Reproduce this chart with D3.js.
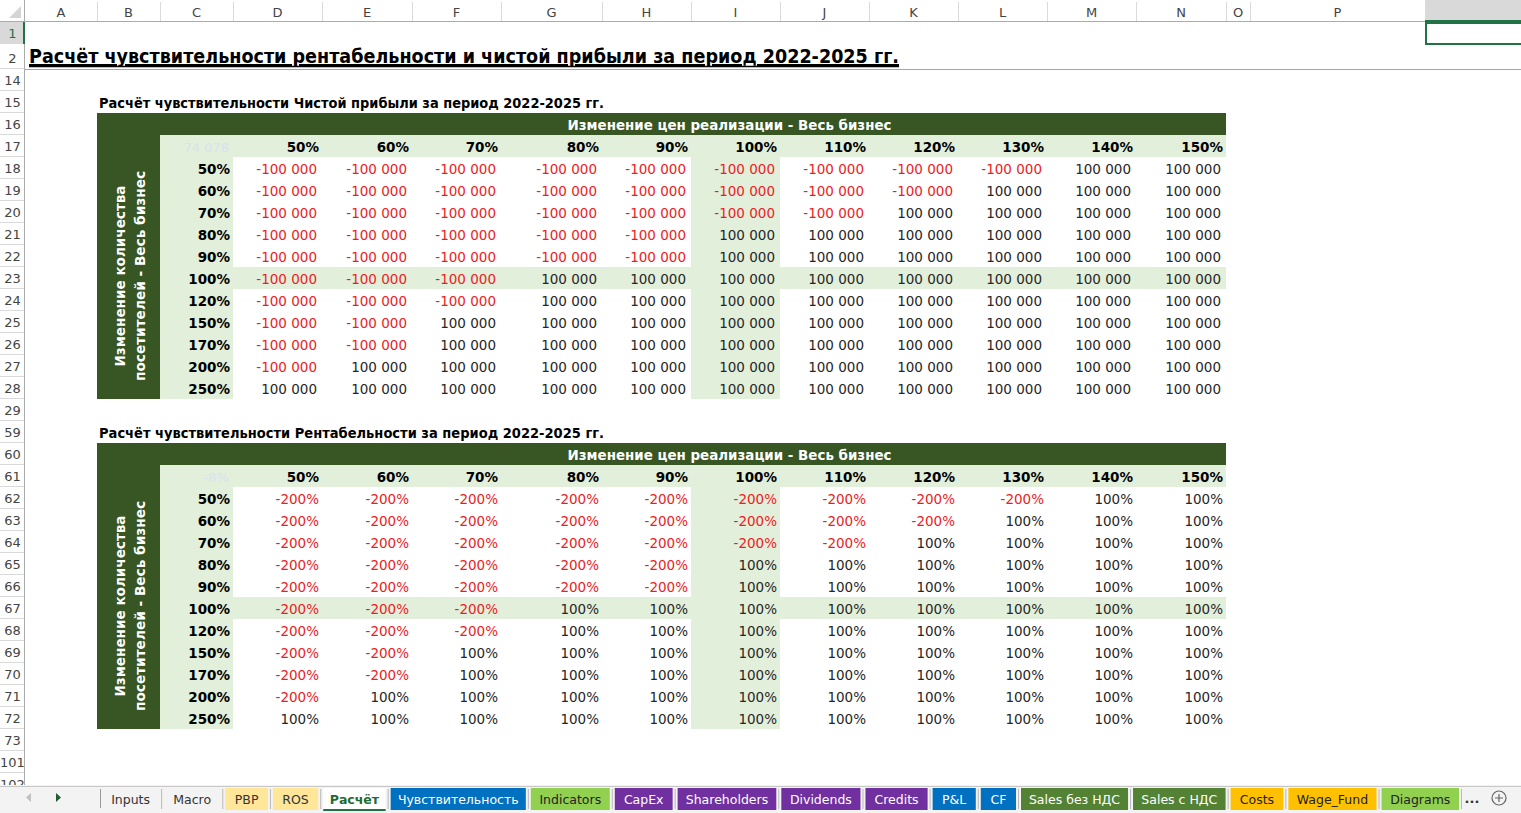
<!DOCTYPE html>
<html>
<head>
<meta charset="utf-8">
<script src="https://cdn.jsdelivr.net/npm/d3@7/dist/d3.min.js"></script>
<style>
  html, body { margin: 0; padding: 0; background: #fff; overflow: hidden; }
  text { font-family: "DejaVu Sans", sans-serif; }
  .ui { font-family: "Noto Sans", "Open Sans", sans-serif; }
</style>
</head>
<body>
<svg id="sheet" width="1521" height="813"></svg>
<script>
// ---- данные ----
const priceChanges = ["50%", "60%", "70%", "80%", "90%", "100%", "110%", "120%", "130%", "140%", "150%"];
const visitorChanges = ["50%", "60%", "70%", "80%", "90%", "100%", "120%", "150%", "170%", "200%", "250%"];

// Чистая прибыль, строки = посетители, столбцы = цена
const profitValues = [
    [-100000, -100000, -100000, -100000, -100000, -100000, -100000, -100000, -100000, 100000, 100000],
    [-100000, -100000, -100000, -100000, -100000, -100000, -100000, -100000, 100000, 100000, 100000],
    [-100000, -100000, -100000, -100000, -100000, -100000, -100000, 100000, 100000, 100000, 100000],
    [-100000, -100000, -100000, -100000, -100000, 100000, 100000, 100000, 100000, 100000, 100000],
    [-100000, -100000, -100000, -100000, -100000, 100000, 100000, 100000, 100000, 100000, 100000],
    [-100000, -100000, -100000, 100000, 100000, 100000, 100000, 100000, 100000, 100000, 100000],
    [-100000, -100000, -100000, 100000, 100000, 100000, 100000, 100000, 100000, 100000, 100000],
    [-100000, -100000, 100000, 100000, 100000, 100000, 100000, 100000, 100000, 100000, 100000],
    [-100000, -100000, 100000, 100000, 100000, 100000, 100000, 100000, 100000, 100000, 100000],
    [-100000, 100000, 100000, 100000, 100000, 100000, 100000, 100000, 100000, 100000, 100000],
    [100000, 100000, 100000, 100000, 100000, 100000, 100000, 100000, 100000, 100000, 100000]
];

// Рентабельность (доли)
const rosValues = [
    [-2, -2, -2, -2, -2, -2, -2, -2, -2, 1, 1],
    [-2, -2, -2, -2, -2, -2, -2, -2, 1, 1, 1],
    [-2, -2, -2, -2, -2, -2, -2, 1, 1, 1, 1],
    [-2, -2, -2, -2, -2, 1, 1, 1, 1, 1, 1],
    [-2, -2, -2, -2, -2, 1, 1, 1, 1, 1, 1],
    [-2, -2, -2, 1, 1, 1, 1, 1, 1, 1, 1],
    [-2, -2, -2, 1, 1, 1, 1, 1, 1, 1, 1],
    [-2, -2, 1, 1, 1, 1, 1, 1, 1, 1, 1],
    [-2, -2, 1, 1, 1, 1, 1, 1, 1, 1, 1],
    [-2, 1, 1, 1, 1, 1, 1, 1, 1, 1, 1],
    [1, 1, 1, 1, 1, 1, 1, 1, 1, 1, 1]
];

const sheetTitle = "Расчёт чувствительности рентабельности и чистой прибыли за период 2022-2025 гг.";
const profitTitle = "Расчёт чувствительности Чистой прибыли за период 2022-2025 гг.";
const rosTitle = "Расчёт чувствительности Рентабельности за период 2022-2025 гг.";
const priceHeader = "Изменение цен реализации - Весь бизнес";
const visitorHeader = ["Изменение количества", "посетителей - Весь бизнес"];
const cornerHints = ["74 078", "-8%"];

const tabNames = ["Inputs", "Macro", "PBP", "ROS", "Расчёт", "Чувствительность", "Indicators", "CapEx",
    "Shareholders", "Dividends", "Credits", "P&L", "CF", "Sales без НДС", "Sales с НДС", "Costs", "Wage_Fund", "Diagrams"];
const tabGroups = ["plain", "plain", "yellow", "yellow", "active", "blue", "lime", "purple",
    "purple", "purple", "purple", "blue", "blue", "green", "green", "orange", "orange", "lime"];

// ---- раскладка листа ----
const W = 1521, H = 813;
const headerH = 22, rowHeadW = 25, tabBarY = 785;
const colLetters = ["A", "B", "C", "D", "E", "F", "G", "H", "I", "J", "K", "L", "M", "N", "O", "P", ""];
const colWidths = [72, 63, 73, 89, 90, 89, 101, 89, 89, 89, 89, 89, 89, 90, 24, 175, 96];
const rowNumbers = [1, 2, ...d3.range(14, 30), ...d3.range(59, 74), 101, 102];
const rowHeight = r => (r === 2 ? 25 : 22);

const colEdges = [rowHeadW, ...d3.cumsum(colWidths).map(v => v + rowHeadW)];
const colLeft = {}, colRight = {};
colLetters.forEach((c, i) => { colLeft[c || "Q"] = colEdges[i]; colRight[c || "Q"] = colEdges[i + 1]; });
const rowTop = {};
let yAcc = headerH;
rowNumbers.forEach(r => { rowTop[r] = yAcc; yAcc += rowHeight(r); });

const GREEN_DARK = "#375623", GREEN_LIGHT = "#e2efda", RED = "#ec1c24", INK = "#262626";

const locale = d3.formatLocale({ decimal: ",", thousands: "\u00a0", grouping: [3], currency: ["", ""], minus: "-" });
const fmtMoney = locale.format(",.0f");
const fmtPct = locale.format(".0%");

const svg = d3.select("#sheet");
svg.append("rect").attr("width", W).attr("height", H).attr("fill", "#fff");

const body = svg.append("g");
svg.append("defs").append("clipPath").attr("id", "bodyClip")
    .append("rect").attr("x", 0).attr("y", 0).attr("width", W).attr("height", tabBarY);
body.attr("clip-path", "url(#bodyClip)");

// ---- заголовки ----
body.append("text")
    .attr("x", 29).attr("y", 63)
    .attr("font-size", 20).attr("font-weight", "bold").attr("fill", "#000")
    .attr("text-decoration", "underline")
    .attr("textLength", 870).attr("lengthAdjust", "spacingAndGlyphs")
    .text(sheetTitle);
body.append("line")
    .attr("x1", 29).attr("x2", 899).attr("y1", 66.5).attr("y2", 66.5)
    .attr("stroke", "#000").attr("stroke-width", 1.6);
body.append("line")
    .attr("x1", rowHeadW).attr("x2", W).attr("y1", rowTop[14] + 0.5).attr("y2", rowTop[14] + 0.5)
    .attr("stroke", "#a6a6a6");

// ---- таблица чувствительности ----
function drawTable(cfg) {
    const g = body.append("g");
    const titleRow = cfg.headRow - 1, colHeadRow = cfg.headRow + 1, firstRow = cfg.headRow + 2;

    g.append("text")
        .attr("x", 99).attr("y", rowTop[titleRow] + 17)
        .attr("font-size", 14.5).attr("font-weight", "bold").attr("fill", "#000")
        .attr("textLength", 505).attr("lengthAdjust", "spacingAndGlyphs")
        .text(cfg.title);

    const xCol = d3.scaleOrdinal().domain(priceChanges).range(["D", "E", "F", "G", "H", "I", "J", "K", "L", "M", "N"]);
    const y = d3.scaleBand().domain(visitorChanges)
        .range([rowTop[firstRow], rowTop[firstRow] + 22 * visitorChanges.length]);
    const left = colLeft.B, right = colRight.N, top = rowTop[cfg.headRow], bottom = y.range()[1];

    // фон
    g.append("rect").attr("x", left).attr("y", top).attr("width", right - left).attr("height", 22).attr("fill", GREEN_DARK);
    g.append("rect").attr("x", left).attr("y", top).attr("width", colRight.B - left).attr("height", bottom - top).attr("fill", GREEN_DARK);
    g.append("rect").attr("x", colLeft.C).attr("y", rowTop[colHeadRow]).attr("width", right - colLeft.C).attr("height", 22).attr("fill", GREEN_LIGHT);
    g.append("rect").attr("x", colLeft.C).attr("y", y.range()[0]).attr("width", colWidths[2]).attr("height", bottom - y.range()[0]).attr("fill", GREEN_LIGHT);
    g.append("rect").attr("x", colLeft.D).attr("y", y("100%")).attr("width", right - colLeft.D).attr("height", y.bandwidth()).attr("fill", GREEN_LIGHT);
    g.append("rect").attr("x", colLeft[xCol("100%")]).attr("y", y.range()[0]).attr("width", colRight[xCol("100%")] - colLeft[xCol("100%")])
        .attr("height", bottom - y.range()[0]).attr("fill", GREEN_LIGHT);

    // шапка
    g.append("text")
        .attr("x", (colLeft.D + right) / 2).attr("y", top + 17)
        .attr("text-anchor", "middle").attr("font-size", 14.5).attr("font-weight", "bold").attr("fill", "#fff")
        .attr("textLength", 324).attr("lengthAdjust", "spacingAndGlyphs")
        .text(priceHeader);

    const midY = rowTop[colHeadRow] + 141;
    visitorHeader.forEach((line, i) => {
        g.append("text")
            .attr("transform", `translate(${i === 0 ? 125 : 145},${midY}) rotate(-90)`)
            .attr("text-anchor", "middle").attr("font-size", 14.5).attr("font-weight", "bold").attr("fill", "#fff")
            .attr("textLength", i === 0 ? 181 : 210).attr("lengthAdjust", "spacingAndGlyphs")
            .text(line);
    });

    g.append("text")
        .attr("x", colRight.C - 4).attr("y", rowTop[colHeadRow] + 17)
        .attr("text-anchor", "end").attr("font-size", 13).attr("fill", "#d6e3f0")
        .text(cfg.hint);

    g.selectAll(".colhead").data(priceChanges).join("text")
        .attr("x", d => colRight[xCol(d)] - 3).attr("y", rowTop[colHeadRow] + 17)
        .attr("text-anchor", "end").attr("font-size", 13.5).attr("font-weight", "bold").attr("fill", "#000")
        .text(d => d);

    g.selectAll(".rowhead").data(visitorChanges).join("text")
        .attr("x", colRight.C - 3).attr("y", d => y(d) + 17)
        .attr("text-anchor", "end").attr("font-size", 13.5).attr("font-weight", "bold").attr("fill", "#000")
        .text(d => d);

    const cells = cfg.values.flatMap((row, i) => row.map((v, j) => ({ r: visitorChanges[i], c: priceChanges[j], v })));
    g.selectAll(".cell").data(cells).join("text")
        .attr("x", d => colRight[xCol(d.c)] - cfg.pad).attr("y", d => y(d.r) + 17)
        .attr("text-anchor", "end").attr("font-size", 13.5)
        .attr("fill", d => (d.v < 0 ? RED : INK))
        .text(d => cfg.format(d.v));
}

drawTable({ headRow: 16, title: profitTitle, values: profitValues, format: fmtMoney, pad: 5, hint: cornerHints[0] });
drawTable({ headRow: 60, title: rosTitle, values: rosValues, format: fmtPct, pad: 3, hint: cornerHints[1] });

// ---- заголовки строк и столбцов ----
const heads = svg.append("g").attr("class", "ui");
heads.append("rect").attr("x", 0).attr("y", 0).attr("width", W).attr("height", headerH).attr("fill", "#fff");
heads.append("rect").attr("x", 0).attr("y", 0).attr("width", rowHeadW).attr("height", tabBarY).attr("fill", "#fff");
heads.append("rect").attr("x", colLeft.Q).attr("y", 0).attr("width", colWidths[16]).attr("height", headerH).attr("fill", "#d9d9d9");
heads.append("rect").attr("x", 0).attr("y", rowTop[1]).attr("width", rowHeadW).attr("height", 22).attr("fill", "#d9d9d9");
heads.append("path").attr("d", "M9,18 L21,18 L21,6 Z").attr("fill", "#d4d4d4");

heads.selectAll(".csep").data(colEdges.slice(1, -1)).join("line")
    .attr("x1", d => d + 0.5).attr("x2", d => d + 0.5).attr("y1", 2).attr("y2", headerH)
    .attr("stroke", "#dadada");
heads.selectAll(".cl").data(colLetters).join("text")
    .attr("x", (d, i) => (colEdges[i] + colEdges[i + 1]) / 2).attr("y", 17)
    .attr("text-anchor", "middle").attr("font-size", 13).attr("fill", "#444")
    .text(d => d);

heads.selectAll(".rsep").data(rowNumbers).join("line")
    .attr("x1", 0).attr("x2", rowHeadW).attr("y1", d => rowTop[d] + rowHeight(d) - 0.5).attr("y2", d => rowTop[d] + rowHeight(d) - 0.5)
    .attr("stroke", "#dadada");
heads.selectAll(".rl").data(rowNumbers).join("text")
    .attr("x", rowHeadW / 2).attr("y", d => rowTop[d] + rowHeight(d) - 6)
    .attr("text-anchor", "middle").attr("font-size", 13)
    .attr("fill", d => (d === 1 ? "#217346" : "#444"))
    .text(d => d);

heads.append("line").attr("x1", 0).attr("x2", W).attr("y1", headerH - 0.5).attr("y2", headerH - 0.5).attr("stroke", "#ababab");
heads.append("line").attr("x1", rowHeadW - 0.5).attr("x2", rowHeadW - 0.5).attr("y1", 0).attr("y2", tabBarY).attr("stroke", "#ababab");
heads.append("line").attr("x1", rowHeadW - 1).attr("x2", rowHeadW - 1).attr("y1", rowTop[1]).attr("y2", rowTop[2]).attr("stroke", "#217346").attr("stroke-width", 2);
heads.append("line").attr("x1", colLeft.Q).attr("x2", W).attr("y1", headerH - 1).attr("y2", headerH - 1).attr("stroke", "#217346").attr("stroke-width", 2);
heads.append("rect").attr("x", colLeft.Q + 1).attr("y", rowTop[1] + 1).attr("width", colWidths[16] + 4).attr("height", 21)
    .attr("fill", "none").attr("stroke", "#217346").attr("stroke-width", 2);

// ---- ярлыки листов ----
const tabs = svg.append("g").attr("class", "ui");
tabs.append("rect").attr("x", 0).attr("y", tabBarY).attr("width", W).attr("height", H - tabBarY).attr("fill", "#f3f3f3");
tabs.append("line").attr("x1", 0).attr("x2", W).attr("y1", tabBarY + 1.5).attr("y2", tabBarY + 1.5).attr("stroke", "#c8c8c8");
tabs.append("path").attr("d", "M31,793 L26,797.5 L31,802 Z").attr("fill", "#c0c0c0");
tabs.append("path").attr("d", "M56,793 L61,797.5 L56,802 Z").attr("fill", "#1f5f2f");
tabs.append("line").attr("x1", 100.5).attr("x2", 100.5).attr("y1", 789).attr("y2", 808).attr("stroke", "#9a9a9a");

const tabFill = d3.scaleOrdinal()
    .domain(["plain", "yellow", "active", "blue", "lime", "purple", "green", "orange"])
    .range(["none", "#ffe699", "#ffffff", "#0070c0", "#92d050", "#7030a0", "#548235", "#ffc000"]);
const tabInk = d3.scaleOrdinal()
    .domain(["plain", "yellow", "active", "blue", "lime", "purple", "green", "orange"])
    .range(["#333", "#333", "#1e6b33", "#fff", "#222", "#fff", "#fff", "#222"]);

const measure = tabs.append("text").attr("font-size", 12.5);
const textW = tabNames.map(n => measure.text(n).node().getComputedTextLength());
measure.remove();
const tabPad = 10.5, tabGap = 5, tabStart = 102, tabEnd = 1459;
const rawW = textW.map(w => w + 2 * tabPad);
const k = (tabEnd - tabStart - tabGap * (tabNames.length - 1)) / d3.sum(rawW);
const tabX = d3.scaleLinear().domain([0, d3.sum(rawW)]).range([0, d3.sum(rawW) * k]);
const tabData = tabNames.map((n, i) => {
    const x0 = tabStart + tabX(d3.sum(rawW.slice(0, i))) + tabGap * i;
    return { name: n, group: tabGroups[i], x0, w: tabX(rawW[i]) };
});

const tab = tabs.selectAll(".tab").data(tabData).join("g");
tab.append("rect")
    .attr("x", d => d.x0).attr("y", 788).attr("width", d => d.w).attr("height", 22)
    .attr("fill", d => tabFill(d.group));
tab.filter(d => d.group === "active").append("line")
    .attr("x1", d => d.x0).attr("x2", d => d.x0 + d.w).attr("y1", 810).attr("y2", 810)
    .attr("stroke", "#217346").attr("stroke-width", 2);
tab.append("line")
    .attr("x1", d => d.x0 + d.w + tabGap / 2).attr("x2", d => d.x0 + d.w + tabGap / 2)
    .attr("y1", 789).attr("y2", 809).attr("stroke", "#b8b8b8");
tab.append("text")
    .attr("x", d => d.x0 + d.w / 2).attr("y", 803.5)
    .attr("text-anchor", "middle").attr("font-size", 12.5)
    .attr("font-weight", d => (d.group === "active" ? "bold" : "normal"))
    .attr("fill", d => tabInk(d.group))
    .text(d => d.name);

tabs.append("text").attr("x", 1472).attr("y", 803).attr("text-anchor", "middle").attr("font-size", 13).attr("font-weight", "bold").attr("fill", "#333").text("...");
tabs.append("circle").attr("cx", 1499).attr("cy", 798).attr("r", 7).attr("fill", "none").attr("stroke", "#666").attr("stroke-width", 1.2);
tabs.append("path").attr("d", "M1495,798 H1503 M1499,794 V802").attr("stroke", "#666").attr("stroke-width", 1.2);
</script>
</body>
</html>
